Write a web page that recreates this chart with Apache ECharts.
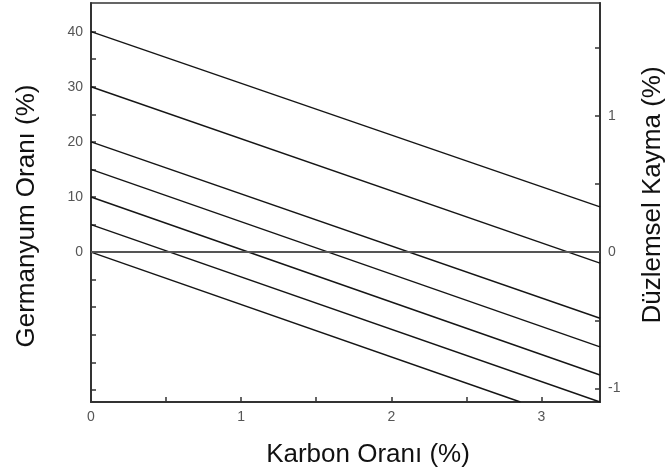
<!DOCTYPE html>
<html>
<head>
<meta charset="utf-8">
<script src="https://cdn.jsdelivr.net/npm/echarts@6/dist/echarts.min.js"></script>
<style>
html,body{margin:0;padding:0;background:#fff}
#main{width:666px;height:474px}
</style>
</head>
<body>
<div id="main"></div>
<script>
// her çizgi: C=0'daki Ge değeri ve sağ/alt kenardaki bitiş noktası
const startGe = [40, 30, 20, 15, 10, 5, 0];
const endC = [3.39, 3.39, 3.39, 3.39, 3.39, 3.39, 2.86];
const endGe = [8.2, -2.0, -12.0, -17.2, -22.3, -27.2, -27.2];
const zeroLine = [[0, 0], [3.39, 0]];

const xTicks = [0, 0.5, 1, 1.5, 2, 2.5, 3];
const xLabels = [0, 1, 2, 3];
const leftTicks = [-25, -20, -15, -10, -5, 0, 5, 10, 15, 20, 25, 30, 35, 40];
const leftLabels = [0, 10, 20, 30, 40];
const rightTicks = [-1, -0.5, 0, 0.5, 1, 1.5];
const rightLabels = [-1, 0, 1];

const axisColor = '#333';
const labelStyle = {color: '#555', fontSize: 14, fontFamily: 'Liberation Sans', margin: 8};

let series = startGe.map(function (g, i) {
    return {
        type: 'line',
        yAxisIndex: 0,
        symbol: 'none',
        silent: true,
        lineStyle: {color: '#151515', width: 1.4},
        data: [[0, g], [endC[i], endGe[i]]]
    };
});
series.push({
    type: 'line',
    yAxisIndex: 0,
    symbol: 'none',
    silent: true,
    lineStyle: {color: '#555', width: 2},
    data: zeroLine
});

let myChart = echarts.init(document.getElementById('main'));
let option = {
    animation: false,
    backgroundColor: '#fff',
    grid: {
        left: 91, right: 66, top: 3, bottom: 72,
        show: true, borderColor: axisColor, borderWidth: 1.5
    },
    xAxis: {
        type: 'value',
        min: 0, max: 3.39,
        axisLine: {show: true, onZero: false, lineStyle: {color: axisColor, width: 2}},
        axisTick: {show: true, inside: true, length: 5, customValues: xTicks, lineStyle: {color: axisColor, width: 1.5}},
        axisLabel: Object.assign({customValues: xLabels}, labelStyle),
        splitLine: {show: false}
    },
    yAxis: [
        {
            type: 'value',
            position: 'left',
            min: -27.2, max: 45.2,
            axisLine: {show: true, onZero: false, lineStyle: {color: axisColor, width: 2}},
            axisTick: {show: true, inside: true, length: 5, customValues: leftTicks, lineStyle: {color: axisColor, width: 1.5}},
            axisLabel: Object.assign({customValues: leftLabels}, labelStyle),
            splitLine: {show: false}
        },
        {
            type: 'value',
            position: 'right',
            min: -1.1, max: 1.83,
            axisLine: {show: true, onZero: false, lineStyle: {color: axisColor, width: 2}},
            axisTick: {show: true, inside: true, length: 5, customValues: rightTicks, lineStyle: {color: axisColor, width: 1.5}},
            axisLabel: Object.assign({customValues: rightLabels}, labelStyle),
            splitLine: {show: false}
        }
    ],
    graphic: [
        {
            type: 'text', x: 27, y: 216, rotation: Math.PI / 2,
            style: {text: 'Germanyum Oranı (%)', font: '26px "Liberation Sans"', fill: '#111', align: 'center', verticalAlign: 'middle'}
        },
        {
            type: 'text', x: 653, y: 195, rotation: Math.PI / 2,
            style: {text: 'Düzlemsel Kayma (%)', font: '26px "Liberation Sans"', fill: '#111', align: 'center', verticalAlign: 'middle'}
        },
        {
            type: 'text', x: 368, y: 455,
            style: {text: 'Karbon Oranı (%)', font: '26px "Liberation Sans"', fill: '#111', align: 'center', verticalAlign: 'middle'}
        }
    ],
    series: series
};
myChart.setOption(option);
</script>
</body>
</html>
